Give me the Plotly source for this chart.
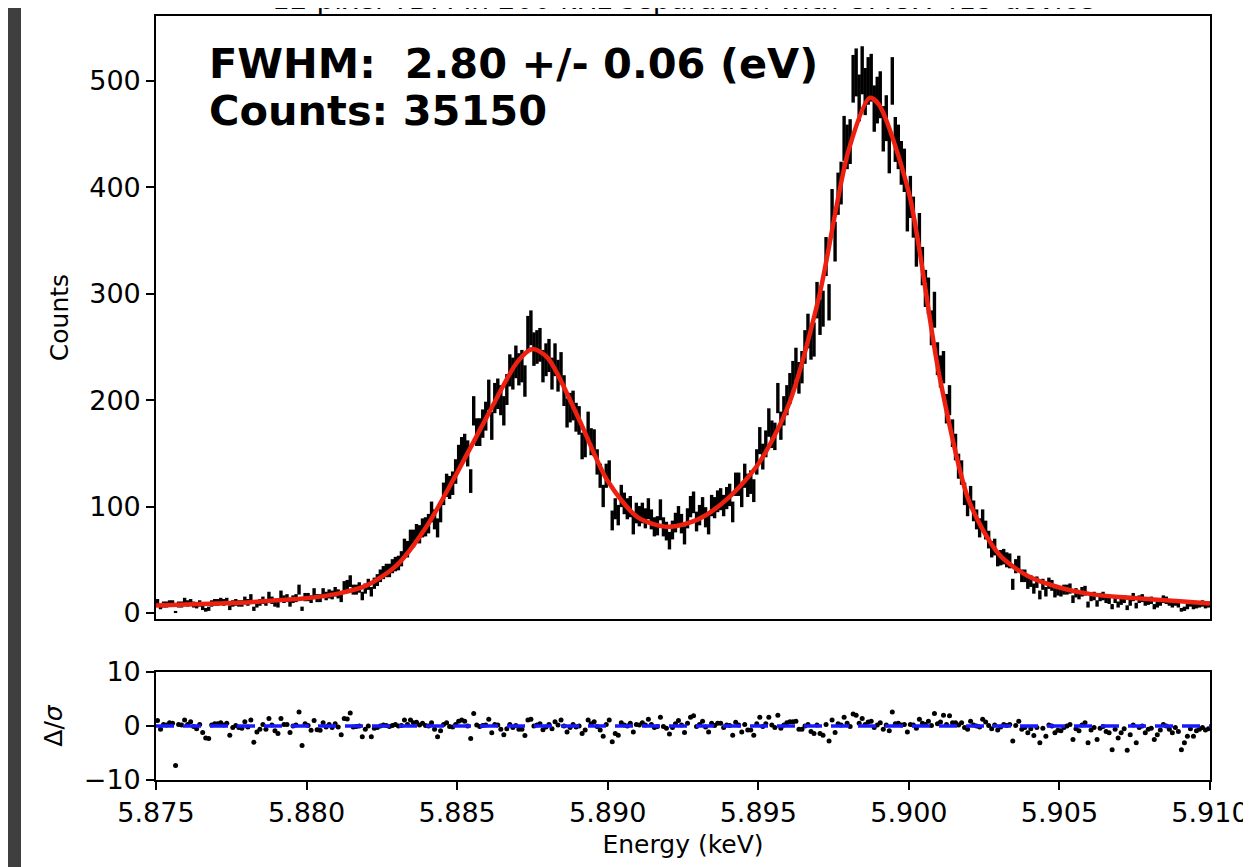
import numpy as np
import plotly.graph_objects as go

# histogram: 350 bins of 0.1 eV between 5.875 and 5.910 keV
e_lo, e_hi, n_bins = 5.875, 5.910, 350

counts = [
    10, 6, 8, 8, 9, 9, 1, 8, 8, 11,
    9, 10, 8, 7, 9, 5, 3, 4, 9, 10,
    10, 11, 10, 11, 5, 9, 10, 9, 9, 12,
    10, 14, 4, 8, 10, 12, 10, 16, 12, 9,
    8, 17, 13, 14, 9, 13, 14, 22, 4, 15,
    15, 13, 19, 14, 14, 19, 16, 18, 17, 20,
    18, 14, 25, 26, 30, 22, 22, 24, 16, 23,
    27, 20, 28, 31, 35, 38, 40, 40, 44, 46,
    47, 51, 62, 60, 70, 70, 75, 74, 80, 81,
    84, 95, 88, 80, 95, 112, 120, 118, 122, 133,
    146, 153, 156, 150, 124, 190, 170, 170, 178, 185,
    205, 176, 202, 206, 200, 190, 210, 228, 225, 236,
    229, 232, 218, 263, 268, 248, 250, 252, 232, 238,
    242, 225, 238, 223, 230, 209, 188, 193, 195, 184,
    181, 157, 159, 176, 161, 160, 142, 129, 110, 129,
    132, 87, 98, 92, 110, 103, 98, 100, 83, 94,
    91, 94, 89, 98, 88, 81, 82, 97, 81, 77,
    68, 78, 85, 91, 84, 73, 89, 100, 104, 86,
    92, 99, 90, 83, 101, 99, 105, 107, 101, 108,
    111, 95, 121, 121, 110, 129, 120, 123, 115, 142,
    162, 147, 159, 179, 168, 166, 202, 176, 190, 200,
    211, 222, 234, 221, 231, 250, 265, 254, 257, 294,
    278, 286, 335, 292, 379, 349, 394, 404, 446, 438,
    443, 502, 508, 484, 510, 490, 500, 503, 474, 482,
    487, 455, 465, 434, 500, 445, 438, 423, 416, 378,
    391, 372, 344, 357, 326, 305, 298, 268, 285, 239,
    227, 231, 192, 200, 169, 156, 138, 132, 112, 101,
    109, 96, 88, 80, 88, 78, 69, 60, 62, 51,
    52, 53, 50, 49, 27, 44, 47, 35, 35, 28,
    30, 23, 29, 17, 27, 20, 28, 26, 19, 21,
    20, 22, 22, 23, 13, 19, 17, 20, 21, 8,
    15, 16, 9, 15, 16, 13, 12, 6, 13, 8,
    11, 13, 5, 10, 15, 7, 13, 14, 10, 11,
    12, 6, 8, 10, 13, 12, 10, 8, 10, 8,
    3, 4, 6, 9, 6, 7, 8, 9, 7, 8,
]

resid = [
    1.0, -0.6, 0.3, 0.2, 0.6, 0.5, -7.3, 0.3, 0.2, 1.1,
    0.3, 0.8, -0.1, -0.5, 0.3, -1.2, -2.2, -2.3, 0.2, 0.4,
    0.4, 0.6, 0.2, 0.5, -1.7, -0.3, 0.1, -0.3, -0.4, 0.8,
    -0.2, 1.1, -3.0, -1.1, -0.6, 0.3, -0.6, 1.4, 0.2, -0.9,
    -1.4, 1.4, 0.3, 0.3, -1.2, 0.0, 0.2, 2.6, -3.6, 0.4,
    0.1, -0.8, 1.0, -0.7, -0.8, 0.6, -0.2, 0.3, -0.3, 0.4,
    -0.2, -1.6, 1.4, 1.3, 2.4, -0.2, -0.1, 0.0, -2.0, -0.6,
    0.0, -2.0, -0.4, -0.3, 0.0, 0.2, 0.1, -0.1, 0.1, 0.3,
    0.0, 0.1, 1.1, 0.3, 1.1, 0.6, 0.7, 0.2, 0.5, 0.1,
    0.0, 0.6, -0.6, -2.0, -0.9, 0.3, 0.6, -0.1, -0.2, 0.3,
    0.9, 1.1, 0.9, 0.0, -2.3, 2.3, 0.2, -0.1, 0.1, 0.2,
    1.25, -1.25, 0.3, 0.2, -0.6, -1.6, -0.5, 0.3, -0.3, 0.1,
    -0.6, -0.6, -1.75, 1.1, 1.25, 0.0, 0.2, 0.4, -0.7, -0.2,
    0.3, -0.5, 0.8, 0.2, 1.1, 0.0, -1.1, -0.3, 0.3, -0.2,
    0.0, -1.4, -0.75, 1.1, 0.4, 0.8, -0.1, -0.75, -1.9, 0.3,
    1.1, -2.9, -1.4, -1.7, 0.6, 0.2, 0.0, 0.5, -1.1, 0.3,
    0.2, 0.6, 0.2, 1.25, 0.3, -0.3, -0.1, 1.6, -0.1, -0.4,
    -1.5, -0.3, 0.4, 1.0, 0.2, -1.2, 0.5, 1.6, 1.9, -0.1,
    0.3, 0.9, -0.2, -1.1, 0.5, 0.1, 0.5, 0.5, -0.3, 0.2,
    0.1, -1.7, 0.7, 0.2, -1.1, 0.3, -0.75, -0.75, -1.7, 0.4,
    1.6, -0.1, 0.4, 1.6, 0.2, -0.3, 2.0, -0.4, 0.2, 0.6,
    0.8, 0.8, 0.9, -0.6, -0.6, 0.0, 0.3, -1.0, -1.4, 0.2,
    -1.4, -1.7, 0.3, -2.8, 1.1, -1.2, 0.4, 0.2, 1.6, 0.5,
    -0.1, 2.2, 2.0, 0.5, 1.4, 0.3, 0.75, 0.9, -0.3, 0.2,
    0.6, -0.6, 0.2, -0.9, 2.6, 0.4, 0.5, 0.2, 0.3, -1.1,
    0.3, 0.2, -0.4, 1.25, 0.5, 0.3, 0.9, 0.1, 2.3, 0.4,
    0.75, 2.0, 0.3, 1.9, 0.6, 0.6, 0.2, 0.6, -0.3, -0.6,
    0.9, 0.2, 0.0, -0.2, 1.25, 0.75, 0.1, -0.5, 0.2, -0.75,
    -0.2, 0.3, 0.1, 0.3, -2.8, 0.1, 0.9, -0.6, -0.3, -1.25,
    -0.5, -1.75, -0.3, -3.1, -0.4, -1.9, 0.2, 0.0, -1.25, -0.8,
    -0.9, -0.3, 0.0, 0.3, -2.5, -0.5, -0.9, 0.2, 0.6, -3.1,
    -0.75, -0.3, -2.5, -0.4, -0.1, -1.0, -1.25, -4.4, -0.6, -2.2,
    -1.25, -0.5, -4.5, -1.6, 0.2, -3.1, -0.3, 0.0, -1.25, -0.6,
    -0.4, -2.5, -1.6, -0.75, 0.3, 0.0, -0.6, -1.25, -0.3, -1.0,
    -4.4, -3.1, -1.9, -0.5, -1.9, -0.9, -0.6, -0.3, -0.75, -0.5,
]

# fitted model
fit_e = [5.875, 5.876, 5.877, 5.878, 5.879, 5.880, 5.881, 5.882, 5.883, 5.884,
         5.885, 5.886, 5.887, 5.8875, 5.888, 5.889, 5.890, 5.891, 5.892, 5.893,
         5.894, 5.895, 5.896, 5.897, 5.898, 5.8987, 5.899, 5.900, 5.901, 5.902,
         5.903, 5.904, 5.905, 5.906, 5.907, 5.908, 5.909, 5.910]
fit_counts = [7, 8, 9, 10, 12, 14, 18, 26, 45, 82,
              132, 185, 236, 248, 240, 185, 124, 90, 81, 88,
              108, 140, 195, 295, 435, 484, 478, 395, 225, 105,
              55, 34, 24, 18, 15, 13, 11, 9]

title_txt = "12 pixel TDM in 200 kHz separation with UMUX 419 device"
fwhm_txt = "FWHM:  2.80 +/- 0.06 (eV)"
cnt_txt = "Counts: 35150"

edges = np.linspace(e_lo, e_hi, n_bins + 1)
centers = 0.5 * (edges[:-1] + edges[1:])
err = np.sqrt(np.array(counts, dtype=float))

FONT = "DejaVu Sans"
# the page body adds an 8 px margin, so the figure is 8 px smaller and margins shifted
W, H = 1243, 859
L, R, T, B = 148, 41, 8, 87
pw, ph = W - L - R, H - T - B   # 1054 x 764

fig = go.Figure()
fig.add_trace(go.Scatter(
    x=centers, y=counts, mode="markers",
    marker=dict(size=1, color="black", opacity=0),
    error_y=dict(type="data", array=err, thickness=3.4, width=0, color="black"),
    xaxis="x", yaxis="y", showlegend=False))
fig.add_trace(go.Scatter(
    x=fit_e, y=fit_counts, mode="lines",
    line=dict(color="#ee2010", width=4.5, shape="spline", smoothing=0.8),
    xaxis="x", yaxis="y", showlegend=False))
fig.add_trace(go.Scatter(
    x=centers, y=resid, mode="markers",
    marker=dict(size=5, color="black"),
    xaxis="x2", yaxis="y2", showlegend=False))
fig.add_trace(go.Scatter(
    x=[e_lo, e_hi], y=[0, 0], mode="lines",
    line=dict(color="#1a1aff", width=3.5, dash="18px,9px"),
    xaxis="x2", yaxis="y2", showlegend=False))

axis_common = dict(showline=True, linecolor="black", linewidth=1.6, mirror=True,
                   showgrid=False, zeroline=False, automargin=False,
                   tickfont=dict(family=FONT, size=27, color="black"))

fig.update_layout(
    width=W, height=H,
    margin=dict(l=L, r=R, t=T, b=B, autoexpand=False),
    paper_bgcolor="white", plot_bgcolor="white",
    xaxis=dict(domain=[0, 1], range=[e_lo, e_hi], anchor="y",
               showticklabels=False, ticks="", **axis_common),
    yaxis=dict(domain=[161 / ph, 1], range=[-5.6, 561], anchor="x",
               tickvals=[0, 100, 200, 300, 400, 500], ticks="outside",
               ticklen=8, tickwidth=1.5, tickcolor="black",
               title=dict(text="Counts", font=dict(family=FONT, size=25, color="black"),
                          standoff=14),
               **axis_common),
    xaxis2=dict(domain=[0, 1], range=[e_lo, e_hi], anchor="y2",
                tickvals=[5.875, 5.880, 5.885, 5.890, 5.895, 5.900, 5.905, 5.910],
                ticktext=["5.875", "5.880", "5.885", "5.890", "5.895", "5.900", "5.905", "5.910"],
                ticks="outside", ticklen=8, tickwidth=1.5, tickcolor="black",
                title=dict(text="Energy (keV)", font=dict(family=FONT, size=25, color="black"),
                           standoff=8),
                **axis_common),
    yaxis2=dict(domain=[0, 108 / ph], range=[-10, 10], anchor="x2",
                tickvals=[-10, 0, 10], ticks="outside",
                ticklen=8, tickwidth=1.5, tickcolor="black",
                title=dict(text="Δ/<i>σ</i>", font=dict(family=FONT, size=25, color="black"),
                           standoff=14),
                **axis_common),
)

# dark strip at the left edge of the screenshot
fig.add_shape(type="rect", xref="paper", yref="paper",
              x0=-L / pw, x1=(13 - L) / pw, y0=-B / ph, y1=(H - B) / ph,
              fillcolor="#3f3f3f", line=dict(width=0), layer="below")

# title, mostly cut off at the top of the page (as in the screenshot)
fig.add_annotation(text=title_txt, xref="paper", yref="paper", x=0.5, y=1,
                   xanchor="center", yanchor="bottom", yshift=-2, showarrow=False,
                   font=dict(family=FONT, size=28, color="black"))

fig.add_annotation(text="<b>" + fwhm_txt + "</b>", xref="paper", yref="paper",
                   x=51 / pw, y=(ph + T - 56) / ph, xanchor="left", yanchor="middle",
                   showarrow=False, font=dict(family=FONT, size=41.5, color="black"))
fig.add_annotation(text="<b>" + cnt_txt + "</b>", xref="paper", yref="paper",
                   x=51 / pw, y=(ph + T - 102) / ph, xanchor="left", yanchor="middle",
                   showarrow=False, font=dict(family=FONT, size=41.5, color="black"))

fig.write_html("out.html")
